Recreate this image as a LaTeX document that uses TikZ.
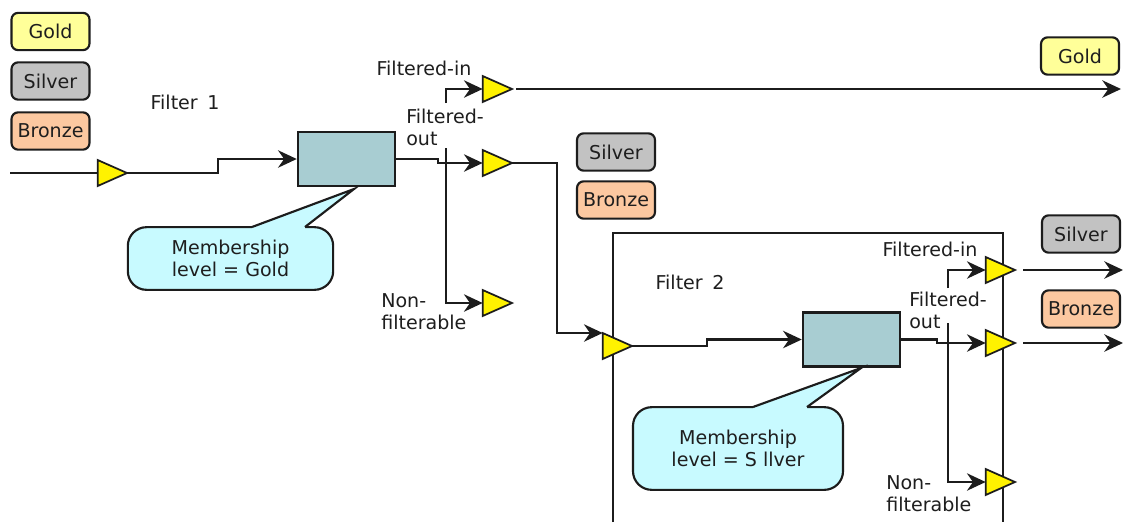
\documentclass[tikz,border=0pt]{standalone}
\usepackage{fontspec}
\setmainfont{DejaVu Sans}
\usetikzlibrary{shapes.geometric,arrows.meta}
\definecolor{goldc}{HTML}{FFFF99}
\definecolor{silverc}{HTML}{C2C2C2}
\definecolor{bronzec}{HTML}{FCC8A0}
\definecolor{boxc}{HTML}{A8CDD2}
\definecolor{callc}{HTML}{C8FAFF}
\definecolor{edgec}{HTML}{1C1C1C}
\definecolor{txtc}{HTML}{1E1E1E}
\newcommand\dfont{\fontsize{14.3}{16.5}\selectfont}
\begin{document}
\begin{tikzpicture}[x=0.75pt,y=-0.75pt,
  every node/.style={font=\dfont, text=txtc},
  tag/.style={draw=edgec, line width=1.6pt, rounded corners=5pt,
    minimum width=58.5pt, minimum height=28pt, inner sep=0pt},
  procbox/.style={draw=edgec, line width=1.6pt, fill=boxc,
    minimum width=73pt, minimum height=40.5pt, inner sep=0pt},
  tri/.style={isosceles triangle, isosceles triangle stretches,
    shape border rotate=0, minimum width=19.5pt, minimum height=22pt,
    inner sep=0pt, outer sep=0pt, fill=yellow, draw=edgec, line width=1.3pt,
    anchor=apex},
  conn/.style={draw=edgec, line width=1.8pt},
  arr/.style={conn, -{Stealth[length=14pt,width=13pt,inset=4.5pt]}},
  callbody/.style={draw=edgec, line width=1.6pt, fill=callc,
    rounded corners=14pt, align=center, inner sep=0pt},
  lbl/.style={align=left, inner sep=0pt}]

\useasboundingbox[fill=white] (0,0) rectangle (1123,522);

% legend
\node[tag, fill=goldc]   (lgold)   at (50.5,31.5) {Gold};
\node[tag, fill=silverc] (lsilver) at (50.5,81)   {Silver};
\node[tag, fill=bronzec] (lbronze) at (50.5,131)  {Bronze};

% filter 2 frame
\draw[conn, line width=1.6pt] (613,522) |- (1003,233) -- (1003,522);

% boxes and labels
\node (f1) at (185,102) {Filter\enspace 1};
\node (f2) at (690,282) {Filter\enspace 2};
\node[procbox] (box1) at (346.5,159) {};
\node[procbox] (box2) at (851.5,339.5) {};

\node[tag, fill=silverc] (msilver) at (616,152) {Silver};
\node[tag, fill=bronzec] (mbronze) at (616,200) {Bronze};
\node[tag, fill=goldc]   (rgold)   at (1080,56)  {Gold};
\node[tag, fill=silverc] (rsilver) at (1081,234) {Silver};
\node[tag, fill=bronzec] (rbronze) at (1081,309) {Bronze};

% callouts
\node[callbody, minimum width=154pt, minimum height=47pt] (call1) at (230.5,258.5)
  {Membership\\level = Gold};
\coordinate (c1a) at (252,227);
\coordinate (c1b) at (305,227);
\coordinate (c1tip) at (354,189);
\fill[callc] ([yshift=-3pt]c1a) -- (c1a) -- (c1tip) -- (c1b) -- ([yshift=-3pt]c1b) -- cycle;
\draw[draw=edgec, line width=1.6pt, line join=miter] (c1a) -- (c1tip) -- (c1b);

\node[callbody, minimum width=157.5pt, minimum height=62pt] (call2) at (738,448.5)
  {Membership\\level = S llver};
\coordinate (c2a) at (753,407);
\coordinate (c2b) at (807,407);
\coordinate (c2tip) at (861,368);
\fill[callc] ([yshift=-3pt]c2a) -- (c2a) -- (c2tip) -- (c2b) -- ([yshift=-3pt]c2b) -- cycle;
\draw[draw=edgec, line width=1.6pt, line join=miter] (c2a) -- (c2tip) -- (c2b);

% triangles
\node[tri] (tin)  at (127,173) {};
\node[tri] (t1a)  at (512,89)  {};
\node[tri] (t1b)  at (512,163) {};
\node[tri] (t1c)  at (512,303) {};
\node[tri] (t2in) at (632,346) {};
\node[tri] (t2a)  at (1015,270) {};
\node[tri] (t2b)  at (1015,343) {};
\node[tri] (t2c)  at (1015,482) {};

% free ends
\coordinate (src)  at (10,173);
\coordinate (s1in) at (446,103);
\coordinate (s1nf) at (446,148);
\coordinate (s2in) at (948,288);
\coordinate (s2nf) at (948,323);
\coordinate (o1)   at (1121,89);
\coordinate (o2)   at (1123,270);
\coordinate (o3)   at (1123,343);

% connectors, filter 1
\draw[conn] (src) -- (tin.west);
\draw[arr] (tin.apex) -- ++(91,0) |- (box1.west);
\draw[arr] (box1.east) -- ++(42,0) |- (t1b.west);
\draw[arr] (s1in) |- (t1a.west);
\draw[arr] (s1nf) |- (t1c.west);
\draw[arr] ([xshift=3pt]t1a.apex) -- (o1);
\draw[arr] (t1b.apex) -- ++(45,0) |- (t2in.left corner);

% connectors, filter 2
\draw[arr] (t2in.apex) -- ++(75,0) |- (box2.west);
\draw[arr] (box2.east) -- ++(36,0) |- (t2b.west);
\draw[arr] (s2in) |- (t2a.west);
\draw[arr] (s2nf) |- (t2c.west);
\draw[arr] ([xshift=6pt]t2a.apex) -- (o2);
\draw[arr] ([xshift=6pt]t2b.apex) -- (o3);

% branch labels
\node (fin1) at (424,68) {Filtered-in};
\node[lbl, anchor=west] (fout1) at (406,127) {Filtered-\\out};
\node[lbl, anchor=west] (nf1) at (381,312) {Non-\\filterable};
\node (fin2) at (930,249) {Filtered-in};
\node[lbl, anchor=west] (fout2) at (909,310) {Filtered-\\out};
\node[lbl, anchor=west] (nf2) at (886,494) {Non-\\filterable};
\end{tikzpicture}
\end{document}
